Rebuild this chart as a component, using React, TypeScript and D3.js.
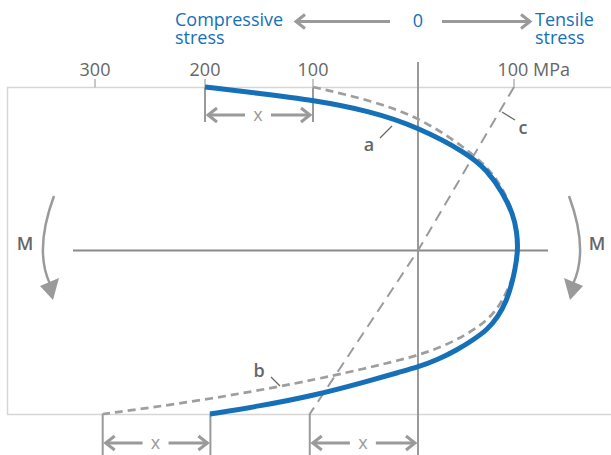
import React from "react";
import * as d3 from "d3";

// ---- data ----
const tickValues = [-300, -200, -100, 100];
const tickLabels = ["300", "200", "100", "100 MPa"];

// residual stress curve (a): stress in MPa, depth from -1 (top) to 1 (bottom)
const curveAStress = [-200, -149.1, -100, -45.7, 0, 51, 71.9, 88.5, 99, 103.1, 104.2, 101, 97.9, 92.7, 83.3, 71.9, 57.3, 40.6, 19.8, 0, -17.1, -48.6, -100.9, -149.1, -195.4];
const curveADepth = [-1, -0.96, -0.92, -0.853, -0.755, -0.596, -0.492, -0.352, -0.223, -0.113, 0, 0.119, 0.199, 0.303, 0.407, 0.486, 0.547, 0.609, 0.67, 0.713, 0.743, 0.801, 0.89, 0.951, 1.0];

// curve (b): dashed
const curveBStress = [-100, -45.7, 0, 43.75, 71.9, 89.6, 100, 105.2, 103.1, 97.9, 87.2, 75, 62.5, 49, 33.3, 15.6, 0, -17.1, -48.6, -112, -204.5, -292.7];
const curveBDepth = [-1, -0.92, -0.817, -0.651, -0.517, -0.37, -0.217, -0.034, 0.07, 0.18, 0.321, 0.408, 0.468, 0.517, 0.566, 0.609, 0.639, 0.67, 0.719, 0.81, 0.92, 1.0];

// line (c): linear elastic stress
const lineCStress = [100, 0, -103];
const lineCDepth = [-1, 0, 1];

// offsets marked "x"
const topOffset = [-200, -100];
const bottomOffsetB = [-293, -195];
const bottomOffsetC = [-103, 0];

const W = 611;
const H = 455;
const BLUE = "#1570b8";
const GRAY = "#9a9a9a";
const DARK = "#666";
const FONT = "'Open Sans', 'Noto Sans', sans-serif";

const x = d3.scaleLinear().domain([-300, -200, -100, 0, 100]).range([95, 205, 313, 418, 514]);
const y = d3.scaleLinear().domain([-1, 1]).range([87, 414]);

const makeLine = (s: number[], d: number[], curve: any) =>
  d3
    .line<number>()
    .x((_, i) => x(s[i]))
    .y((_, i) => y(d[i]))
    .curve(curve)(s.map((v) => v)) as string;

function Chevron({ x0, y0, dir }: { x0: number; y0: number; dir: number }) {
  const p = d3.path();
  p.moveTo(x0 - dir * 9, y0 - 7);
  p.lineTo(x0, y0);
  p.lineTo(x0 - dir * 9, y0 + 7);
  return <path d={p.toString()} fill="none" stroke={GRAY} strokeWidth={3} strokeLinejoin="miter" />;
}

function DimArrow({ x1, x2, yy }: { x1: number; x2: number; yy: number }) {
  const mid = (x1 + x2) / 2;
  const a = x1 + 3;
  const b = x2 - 3;
  return (
    <g>
      <line x1={a} x2={mid - 14} y1={yy} y2={yy} stroke={GRAY} strokeWidth={3} />
      <line x1={mid + 12} x2={b} y1={yy} y2={yy} stroke={GRAY} strokeWidth={3} />
      <Chevron x0={a} y0={yy} dir={-1} />
      <Chevron x0={b} y0={yy} dir={1} />
      <text x={mid - 1} y={yy + 6} textAnchor="middle" fontSize={18} fill={GRAY} fontFamily={FONT}>
        x
      </text>
    </g>
  );
}

export default function App() {
  const pathA = makeLine(curveAStress, curveADepth, d3.curveBasis);
  const pathB = makeLine(curveBStress, curveBDepth, d3.curveBasis);
  const pathC = makeLine(lineCStress, lineCDepth, d3.curveLinear);

  const top = y(-1) + 0.5;
  const bottom = y(1) + 0.5;
  const zx = x(0);

  const arcL = "M54,196 Q34,250 50,284";
  const headL = "M53,300 L40,286 L59,278 Z";
  const mirror = 623;
  const arcR = `M${mirror - 54},196 Q${mirror - 34},250 ${mirror - 50},284`;
  const headR = `M${mirror - 53},300 L${mirror - 40},286 L${mirror - 59},278 Z`;

  return (
    <svg width={W} height={H} style={{ position: "absolute", left: 0, top: 0, background: "#fff" }}>
      {/* frame */}
      <rect x={7.5} y={top} width={630} height={bottom - top} fill="none" stroke="#d6d6d6" strokeWidth={1.5} />

      {/* header */}
      <g fontFamily={FONT} fontSize={18} fill={BLUE}>
        <text x={175} y={26}>
          Compressive
          <tspan x={175} y={44}>stress</tspan>
        </text>
        <text x={zx} y={27} textAnchor="middle">0</text>
        <text x={535} y={26}>
          Tensile
          <tspan x={535} y={44}>stress</tspan>
        </text>
      </g>
      <line x1={297} x2={390} y1={21.5} y2={21.5} stroke={GRAY} strokeWidth={3} />
      <Chevron x0={296} y0={21.5} dir={-1} />
      <line x1={442} x2={529} y1={21.5} y2={21.5} stroke={GRAY} strokeWidth={3} />
      <Chevron x0={530} y0={21.5} dir={1} />

      {/* ticks */}
      {tickValues.map((v, i) => (
        <g key={v}>
          <line x1={x(v)} x2={x(v)} y1={79} y2={top} stroke="#b5b5b5" strokeWidth={1.5} />
          <text
            x={v === 100 ? x(v) - 16.5 : x(v)}
            y={76}
            textAnchor={v === 100 ? "start" : "middle"}
            fontFamily={FONT}
            fontSize={18}
            fill={DARK}
          >
            {tickLabels[i]}
          </text>
        </g>
      ))}

      {/* zero line */}
      <line x1={zx} x2={zx} y1={62} y2={H} stroke={GRAY} strokeWidth={2} />
      {/* neutral axis */}
      <line x1={73} x2={548} y1={y(0)} y2={y(0)} stroke="#8a8a8a" strokeWidth={2} />

      {/* dimension lines */}
      {topOffset.map((v) => (
        <line key={"t" + v} x1={x(v)} x2={x(v)} y1={top} y2={122} stroke={GRAY} strokeWidth={2} />
      ))}
      <DimArrow x1={x(topOffset[0])} x2={x(topOffset[1])} yy={115} />
      {[...bottomOffsetB, bottomOffsetC[0]].map((v) => (
        <line key={"b" + v} x1={x(v)} x2={x(v)} y1={bottom - 1} y2={H} stroke={GRAY} strokeWidth={2} />
      ))}
      <DimArrow x1={x(bottomOffsetB[0])} x2={x(bottomOffsetB[1])} yy={443} />
      <DimArrow x1={x(bottomOffsetC[0])} x2={x(bottomOffsetC[1])} yy={443} />

      {/* curves */}
      <path d={pathC} fill="none" stroke={GRAY} strokeWidth={2} strokeDasharray="11 7" />
      <path d={pathB} fill="none" stroke="#9e9e9e" strokeWidth={2.7} strokeDasharray="8 5" />
      <path d={pathA} fill="none" stroke={BLUE} strokeWidth={5} strokeLinecap="butt" />

      {/* labels */}
      <g fontFamily={FONT} fontSize={18} fontWeight={600} fill={DARK}>
        <text x={369} y={151} textAnchor="middle">a</text>
        <text x={259} y={377} textAnchor="middle">b</text>
        <text x={523} y={134} textAnchor="middle">c</text>
        <text x={25} y={250} textAnchor="middle">M</text>
        <text x={597} y={250} textAnchor="middle">M</text>
      </g>
      <g stroke={DARK} strokeWidth={1.2}>
        <line x1={380} y1={138} x2={392} y2={126} />
        <line x1={271} y1={377} x2={280} y2={386} />
        <line x1={502} y1={112} x2={515} y2={120} />
      </g>

      {/* moment arrows */}
      <path d={arcL} fill="none" stroke={GRAY} strokeWidth={2.5} />
      <path d={headL} fill={GRAY} />
      <path d={arcR} fill="none" stroke={GRAY} strokeWidth={2.5} />
      <path d={headR} fill={GRAY} />
    </svg>
  );
}
